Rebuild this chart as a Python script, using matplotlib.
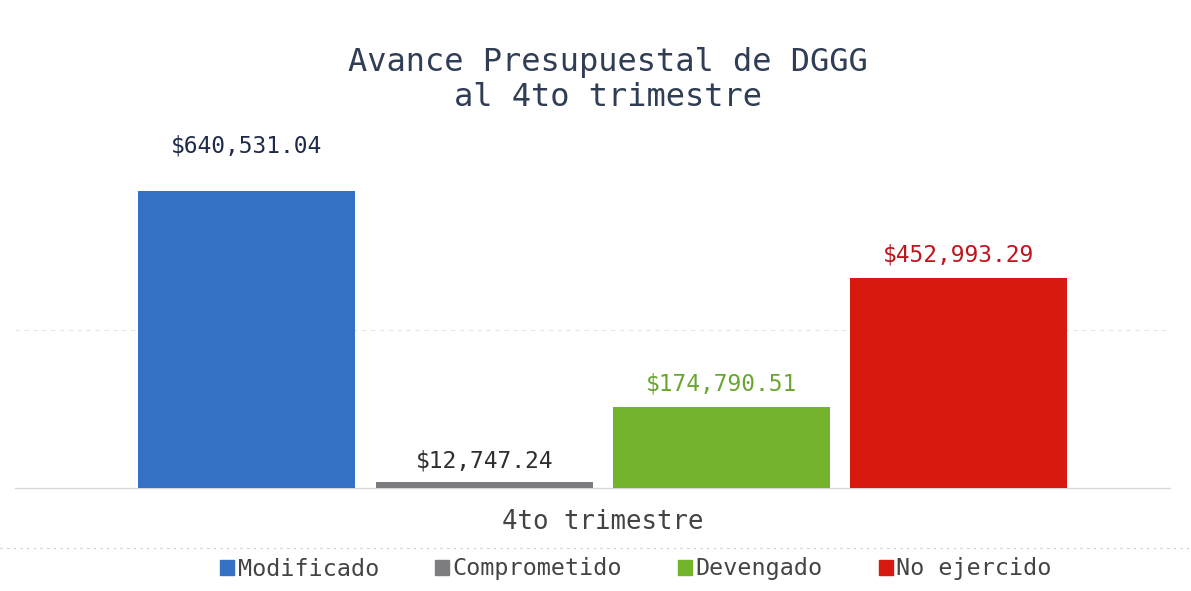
import matplotlib.pyplot as plt
from matplotlib.lines import Line2D
import numpy as np

# data
categoria = "4to trimestre"
series = ["Modificado", "Comprometido", "Devengado", "No ejercido"]
valores = [640531.04, 12747.24, 174790.51, 452993.29]
colores = ["#3470c4", "#7d7d7f", "#74b42c", "#d8190f"]
colores_etiqueta = ["#1e2a4a", "#2e2e2e", "#6aa62e", "#c0141c"]

plt.rcParams['font.family'] = ['DejaVu Sans Mono']

fig = plt.figure(figsize=(11.91, 5.91), dpi=100)
ax = fig.add_axes([15 / 1191, 103 / 591, 1155 / 1191, 371 / 591])

# bar positions within the single category group
x = (np.arange(len(series)) - 1.5) * 0.2055
bars = ax.bar(x, valores, width=0.188, color=colores, label=series, zorder=3)

ax.set_xlim(-0.509, 0.491)
ax.set_ylim(0, 800000)

# faint background grid
ax.set_yticks([340000])
ax.yaxis.grid(True, color="#e6e6e6", linestyle=(0, (4, 4)), linewidth=0.8, zorder=0)
ax.tick_params(axis='y', left=False, labelleft=False)

ax.set_xticks([0])
ax.set_xticklabels([categoria], fontsize=18.5, color="#444444")
ax.tick_params(axis='x', length=0, pad=15)

for s in ["top", "right", "left"]:
    ax.spines[s].set_visible(False)
ax.spines["bottom"].set_color("#d9d9d9")
ax.spines["bottom"].set_linewidth(1.0)

# value labels above the bars
offsets = [24, 7, 8, 8]
for b, v, c, off in zip(bars, valores, colores_etiqueta, offsets):
    ax.annotate(f"${v:,.2f}", (b.get_x() + b.get_width() / 2, v),
                xytext=(0, off), textcoords="offset points",
                ha="center", va="bottom", fontsize=16.5, color=c,
                fontweight="medium")

fig.text(608 / 1191, 1 - 80 / 591, "Avance Presupuestal de DGGG\nal 4to trimestre",
         ha="center", va="center", fontsize=23, color="#2f3d55",
         linespacing=1.2)

# faint dotted separator above the legend
fig.add_artist(Line2D([0, 1], [1 - 548 / 591] * 2, color="#cccccc",
                      linestyle=(0, (2, 4)), linewidth=0.8))

handles = [plt.Rectangle((0, 0), 1, 1, color=c) for c in colores]
fig.legend(handles, series, loc="center", bbox_to_anchor=(0.534, 1 - 569 / 591),
           ncol=4, frameon=False, fontsize=16.8, handlelength=0.6,
           handleheight=0.6, handletextpad=0.15, columnspacing=2.4,
           labelcolor="#444444")

fig.savefig("out.png", dpi=100, facecolor="white")
